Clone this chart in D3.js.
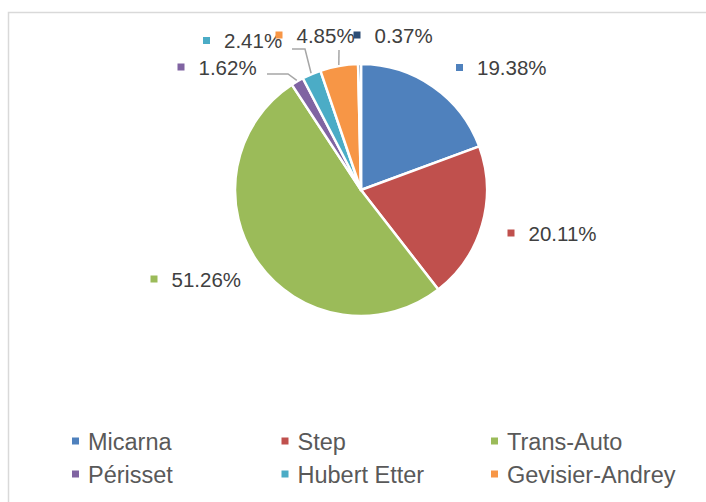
<!DOCTYPE html>
<html>
<head>
<meta charset="utf-8">
<script src="https://cdn.jsdelivr.net/npm/d3@7"></script>
<style>
  body { margin: 0; background: #fff; }
  svg { display: block; font-family: "Liberation Sans", Arial, sans-serif; }
</style>
</head>
<body>
<div id="chart"></div>
<script>
// data
var names = ["Micarna", "Step", "Trans-Auto", "Périsset", "Hubert Etter", "Gevisier-Andrey", ""];
var shares = [19.38, 20.11, 51.26, 1.62, 2.41, 4.85, 0.37];
var colors = ["#4f81bd", "#c0504d", "#9bbb59", "#8064a2", "#4bacc6", "#f79646", "#2c4d75"];

var width = 706, height = 502;
var cx = 361, cy = 190, radius = 126;

// where Excel put each data label (marker centre, relative to pie centre)
var labelSpots = [[98.5, -122.5], [150, 43], [-207, 89], [-180, -123], [-154.5, -149.5], [-82, -155], [-4, -155]];
// leader lines: start point and elbow x, relative to pie centre
var leaders = {
    3: {x0: -94, y0: -116, ex: -73},
    4: {x0: -69, y0: -141, ex: -56},
    5: {x0: -22, y0: -140, ex: -22}
};

var svg = d3.select("#chart").append("svg")
    .attr("width", width)
    .attr("height", height);

// chart area border (runs off the right and bottom edges)
svg.append("rect")
    .attr("x", 8.5).attr("y", 12.5)
    .attr("width", 720).attr("height", 520)
    .attr("fill", "#fff")
    .attr("stroke", "#d9d9d9")
    .attr("stroke-width", 1.5);

var pie = d3.pie().sort(null).value(function(d) { return d; });
var arcs = pie(shares);

var arc = d3.arc().innerRadius(0).outerRadius(radius);

var g = svg.append("g").attr("transform", "translate(" + cx + "," + cy + ")");

g.selectAll("path.slice")
    .data(arcs)
    .enter()
    .append("path")
        .attr("class", "slice")
        .attr("d", arc)
        .attr("fill", function(d, i) { return colors[i]; })
        .attr("stroke", "#fff")
        .attr("stroke-width", 2.5)
        .attr("stroke-linejoin", "round");

// leader lines for the thin slices
Object.keys(leaders).forEach(function(k) {
    var d = arcs[k], l = leaders[k];
    var a = (d.startAngle + d.endAngle) / 2;
    var end = [Math.sin(a) * (radius + 1), -Math.cos(a) * (radius + 1)];
    g.append("path")
        .attr("d", d3.line()([[l.x0, l.y0], [l.ex, l.y0], end]))
        .attr("fill", "none")
        .attr("stroke", "#a6a6a6")
        .attr("stroke-width", 1.5);
});

// data labels
var labels = g.selectAll("g.label")
    .data(arcs)
    .enter()
    .append("g")
        .attr("class", "label")
        .attr("transform", function(d, i) {
            return "translate(" + labelSpots[i][0] + "," + labelSpots[i][1] + ")";
        });

labels.append("text")
    .attr("x", 17.5)
    .attr("y", 7.5)
    .attr("font-size", 20.5)
    .attr("fill", "#404040")
    .text(function(d) { return d3.format(".2f")(d.data) + "%"; });

labels.append("rect")
    .attr("x", -3.5).attr("y", -3.5)
    .attr("width", 7).attr("height", 7)
    .attr("fill", function(d, i) { return colors[i]; });

// legend: 3 columns, only the six named series shown
var legendItems = names.slice(0, 6);
var legend = svg.selectAll("g.legend")
    .data(legendItems)
    .enter()
    .append("g")
        .attr("class", "legend")
        .attr("transform", function(d, i) {
            return "translate(" + (75.5 + (i % 3) * 209.5) + "," + (441 + Math.floor(i / 3) * 33) + ")";
        });

legend.append("rect")
    .attr("x", -3.5).attr("y", -3.5)
    .attr("width", 7).attr("height", 7)
    .attr("fill", function(d, i) { return colors[i]; });

legend.append("text")
    .attr("x", 12.5)
    .attr("y", 8.5)
    .attr("font-size", 23.5)
    .attr("fill", "#595959")
    .text(function(d) { return d; });
</script>
</body>
</html>
